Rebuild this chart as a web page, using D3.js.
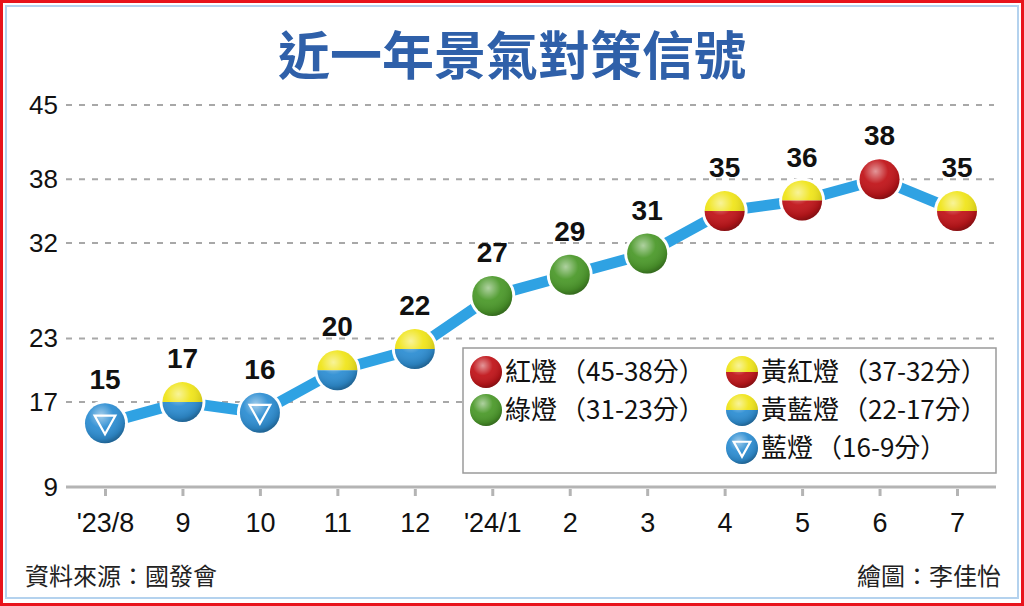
<!DOCTYPE html>
<html>
<head>
<meta charset="utf-8">
<script src="https://cdn.jsdelivr.net/npm/d3@7"></script>
<style>
  body { margin: 0; background: #fff; }
  svg { display: block; }
</style>
</head>
<body>
<svg id="chart" width="1024" height="606"></svg>
<script>
// months and signal scores
const months = ["'23/8", "9", "10", "11", "12", "'24/1", "2", "3", "4", "5", "6", "7"];
const scores = [15, 17, 16, 20, 22, 27, 29, 31, 35, 36, 38, 35];
const yTicks = [9, 17, 23, 32, 38, 45];
const legendKinds = ["red", "green", "yellowRed", "yellowBlue", "blue"];
const legendNames = ["紅燈", "綠燈", "黃紅燈", "黃藍燈", "藍燈"];
const legendRanges = ["45-38", "31-23", "37-32", "22-17", "16-9"];

const CJK = "'Noto Sans CJK TC', 'Noto Sans', sans-serif";
const NUM = "'Liberation Sans', Arial, sans-serif";

const colors = { red: "#c1161b", green: "#4d9a2c", yellow: "#f0e51c", blue: "#2f8fd3" };

function kindOf(v) {
  if (v >= 38) return "red";
  if (v >= 32) return "yellowRed";
  if (v >= 23) return "green";
  if (v >= 17) return "yellowBlue";
  return "blue";
}

const svg = d3.select("#chart");

// frame
svg.append("rect").attr("x", 1.5).attr("y", 1.5).attr("width", 1021).attr("height", 603)
  .attr("fill", "#fff").attr("stroke", "#e8141c").attr("stroke-width", 3);
svg.append("rect").attr("x", 6).attr("y", 6).attr("width", 1012).attr("height", 592)
  .attr("fill", "none").attr("stroke", "#b4d2ee").attr("stroke-width", 2);

// gradients for the glossy balls
const defs = svg.append("defs");
const shine = defs.append("radialGradient").attr("id", "shine")
  .attr("cx", "40%").attr("cy", "30%").attr("r", "70%");
shine.append("stop").attr("offset", "0%").attr("stop-color", "#fff").attr("stop-opacity", 0.55);
shine.append("stop").attr("offset", "45%").attr("stop-color", "#fff").attr("stop-opacity", 0.05);
shine.append("stop").attr("offset", "85%").attr("stop-color", "#000").attr("stop-opacity", 0.12);
shine.append("stop").attr("offset", "100%").attr("stop-color", "#000").attr("stop-opacity", 0.3);

// title
svg.append("text").attr("x", 512).attr("y", 75).attr("text-anchor", "middle")
  .attr("font-family", CJK).attr("font-weight", 700).attr("font-size", 52)
  .attr("fill", "#2f60a9").text("近一年景氣對策信號");

const x = d3.scalePoint().domain(months).range([105, 957]);
const y = d3.scaleLinear().domain([9, 45]).range([487, 105]);

// grid lines
svg.append("g").selectAll("line").data(yTicks.filter(d => d !== 9)).join("line")
  .attr("x1", 66).attr("x2", 994)
  .attr("y1", d => y(d)).attr("y2", d => y(d))
  .attr("stroke", "#a8a8a8").attr("stroke-width", 2).attr("stroke-dasharray", "6,7");

// y labels
svg.append("g").selectAll("text").data(yTicks).join("text")
  .attr("x", 58).attr("y", d => y(d) + 9).attr("text-anchor", "end")
  .attr("font-family", NUM).attr("font-size", 26).attr("fill", "#111")
  .text(d => d);

// x axis
const xAxis = svg.append("g").attr("transform", `translate(0,${y(9)})`)
  .call(d3.axisBottom(x).tickSize(9).tickSizeOuter(0));
xAxis.select(".domain").attr("stroke", "#b4b4b4").attr("stroke-width", 3)
  .attr("d", "M66,0H996");
xAxis.selectAll(".tick line").attr("stroke", "#b4b4b4").attr("stroke-width", 3).attr("y1", 2);
xAxis.selectAll(".tick text").attr("font-family", NUM).attr("font-size", 27)
  .attr("fill", "#111").attr("dy", 0).attr("y", 45);

// line
svg.append("path").datum(scores)
  .attr("d", d3.line().x((d, i) => x(months[i])).y(d => y(d)))
  .attr("fill", "none").attr("stroke", "#2fa2e3").attr("stroke-width", 11);

function drawBall(g, kind, r) {
  g.append("circle").attr("r", r + 3).attr("fill", "#fff");
  const arc = d3.arc().innerRadius(0).outerRadius(r);
  if (kind === "yellowRed" || kind === "yellowBlue") {
    g.append("path").attr("d", arc({ startAngle: -Math.PI / 2, endAngle: Math.PI / 2 }))
      .attr("fill", colors.yellow);
    g.append("path").attr("d", arc({ startAngle: Math.PI / 2, endAngle: 3 * Math.PI / 2 }))
      .attr("fill", kind === "yellowRed" ? colors.red : colors.blue);
  } else {
    g.append("circle").attr("r", r).attr("fill", colors[kind]);
  }
  g.append("circle").attr("r", r).attr("fill", "url(#shine)");
  if (kind === "blue") {
    const s = r * 0.52;
    g.append("path")
      .attr("d", `M${-s},${-s * 0.75}L${s},${-s * 0.75}L0,${s * 1.05}Z`)
      .attr("fill", "none").attr("stroke", "#fff").attr("stroke-width", 2.2)
      .attr("stroke-linejoin", "miter");
  }
}

// points
const pts = svg.append("g").selectAll("g").data(scores).join("g")
  .attr("transform", (d, i) => `translate(${x(months[i])},${y(d)})`);
pts.each(function (d) { drawBall(d3.select(this), kindOf(d), 20); });
pts.append("text").attr("y", -34).attr("text-anchor", "middle")
  .attr("font-family", NUM).attr("font-weight", 700).attr("font-size", 28)
  .attr("fill", "#111").text(d => d);

// legend
const lg = svg.append("g");
lg.append("rect").attr("x", 463).attr("y", 348).attr("width", 533).attr("height", 125)
  .attr("fill", "#fff").attr("stroke", "#9a9a9a").attr("stroke-width", 1.5);
const legendPos = [[486, 372], [486, 410], [742, 372], [742, 410], [742, 448]];
legendKinds.forEach((kind, i) => {
  const [lx, ly] = legendPos[i];
  const g = lg.append("g").attr("transform", `translate(${lx},${ly})`);
  drawBall(g, kind, 16);
  const t = g.append("text").attr("x", 19).attr("y", 9).attr("font-family", CJK)
    .attr("font-size", 26).attr("fill", "#111");
  t.append("tspan").text(legendNames[i]);
  t.append("tspan").attr("dx", 3).text("（");
  t.append("tspan").text(legendRanges[i] + "分");
  t.append("tspan").text("）");
});

// footer
svg.append("text").attr("x", 25).attr("y", 585).attr("font-family", CJK)
  .attr("font-size", 24).attr("fill", "#222").text("資料來源：國發會");
svg.append("text").attr("x", 1001).attr("y", 585).attr("text-anchor", "end")
  .attr("font-family", CJK).attr("font-size", 24).attr("fill", "#222").text("繪圖：李佳怡");
</script>
</body>
</html>
